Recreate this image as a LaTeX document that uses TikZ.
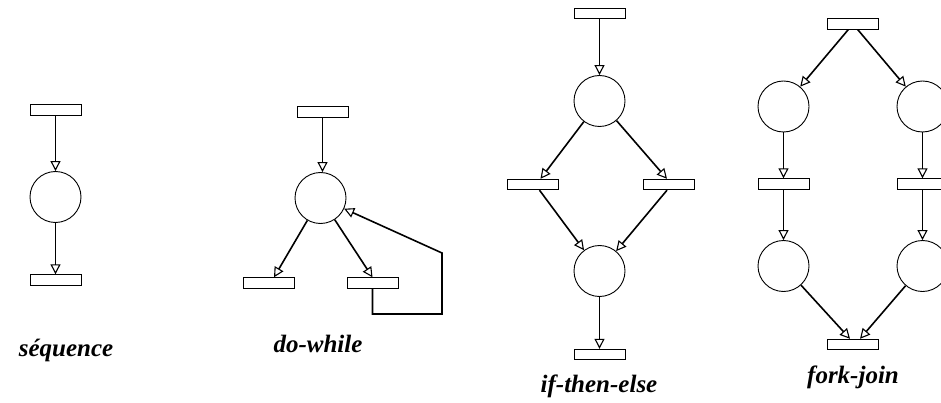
\documentclass[tikz,border=0pt]{standalone}
\usepackage{fontspec}
\setmainfont{Liberation Serif}
\usetikzlibrary{arrows.meta}
\begin{document}
\begin{tikzpicture}[x=1pt,y=-1pt,
  place/.style={draw,circle,minimum size=51pt,inner sep=0pt,line width=0.9pt},
  trans/.style={draw,rectangle,minimum width=51pt,minimum height=10.5pt,inner sep=0pt,line width=0.9pt},
  arc/.style={line width=1.6pt,-{Triangle[open,length=10pt,width=10pt,line width=1.1pt]}},
  caption/.style={font=\fontsize{25}{28}\selectfont\bfseries\itshape}]
\useasboundingbox[clip] (0,0) rectangle (941,403);
% sequence
\node[trans] (s1) at (55.5,110) {};
\node[place] (s2) at (55.5,197) {};
\node[trans] (s3) at (55.5,280) {};
\draw[arc] (s1) -- (s2);
\draw[arc] (s2) -- (s3);
\node[caption] (sl) at (66,350) {séquence};
% do-while
\node[trans] (d1) at (322.5,112) {};
\node[place] (d2) at (320.5,198) {};
\node[trans] (d3) at (269,283) {};
\node[trans] (d4) at (372.5,283) {};
\coordinate (dc1) at (442,314);
\coordinate (dc2) at (442,253);
\draw[arc] (d1) -- (d1 |- d2.north);
\draw[arc] (d2) -- ([xshift=5pt]d3.north);
\draw[arc] (d2) -- (d4.north);
\draw[arc] (d4.south) |- (dc1) -- (dc2) -- (d2);
\node[caption] (dl) at (318,344) {do-while};
% if-then-else
\node[trans] (i1) at (599.5,13.5) {};
\node[place] (i2) at (599.5,101) {};
\node[trans] (i3) at (532.5,184.5) {};
\node[trans] (i4) at (669,184.5) {};
\node[place] (i5) at (599.5,271) {};
\node[trans] (i6) at (599.5,354.5) {};
\draw[arc] (i1) -- (i2);
\draw[arc] (i2) -- ([xshift=8pt]i3.north);
\draw[arc] (i2) -- ([xshift=-2pt]i4.north);
\draw[arc] ([xshift=7pt]i3.south) -- (i5);
\draw[arc] ([xshift=-2pt]i4.south) -- (i5);
\draw[arc] (i5) -- (i6);
\node[caption] (il) at (599,386) {if-then-else};
% fork-join
\node[trans] (f1) at (853,24) {};
\node[place] (f2) at (783.5,106.5) {};
\node[place] (f3) at (922.5,106.5) {};
\node[trans] (f4) at (783.5,184) {};
\node[trans] (f5) at (922.5,184) {};
\node[place] (f6) at (783.5,266) {};
\node[place] (f7) at (922.5,266) {};
\node[trans] (f8) at (853,344.5) {};
\draw[arc] (f1) -- (f2);
\draw[arc] (f1) -- (f3);
\draw[arc] (f2) -- (f4);
\draw[arc] (f3) -- (f5);
\draw[arc] (f4) -- (f6);
\draw[arc] (f5) -- (f7);
\draw[arc] (f6) -- ([xshift=-3pt]f8.north);
\draw[arc] (f7) -- ([xshift=7pt]f8.north);
\node[caption] (fl) at (853,377) {fork-join};
\end{tikzpicture}
\end{document}
